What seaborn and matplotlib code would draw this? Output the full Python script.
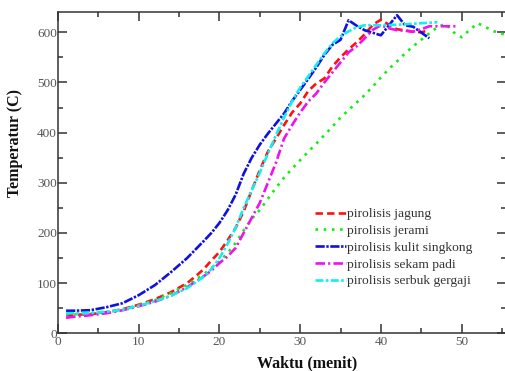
import numpy as np
import pandas as pd
import matplotlib
matplotlib.use("Agg")
import matplotlib.pyplot as plt
import seaborn as sns

# ---- data ----
series_names = ["pirolisis jagung", "pirolisis jerami", "pirolisis kulit singkong",
                "pirolisis sekam padi", "pirolisis serbuk gergaji"]

t_jagung = [1, 2, 4, 6, 8, 10, 12, 14, 16, 17, 18, 19, 20, 21, 22, 23, 24, 25, 26, 27,
            28, 29, 30, 31, 32, 33, 34, 35, 36, 37, 38, 39, 40, 41, 42, 43, 44, 45, 46]
y_jagung = [36, 37, 38, 42, 48, 57, 68, 82, 100, 113, 127, 145, 162, 185, 210, 243, 285, 325, 362, 388,
            415, 440, 458, 483, 498, 508, 532, 550, 566, 580, 596, 615, 625, 615, 606, 604, 601, 600, 604]

t_jerami = [1, 2, 4, 6, 8, 10, 12, 14, 16, 18, 20, 21, 22, 23, 24, 25, 26, 27, 28, 29, 30,
            31, 32, 33, 34, 35, 36, 37, 38, 39, 40, 41, 42, 43, 44, 45, 46, 47, 48, 49, 50,
            51, 52, 53, 54, 55, 56]
y_jerami = [38, 38, 39, 42, 48, 56, 66, 80, 97, 117, 143, 160, 180, 205, 228, 246, 268, 290, 310, 328, 345,
            362, 378, 395, 412, 430, 445, 460, 475, 492, 510, 527, 542, 558, 572, 585, 598, 610, 617, 600, 590,
            605, 618, 610, 602, 597, 592]

t_kulit = [1, 2, 4, 6, 8, 10, 12, 14, 16, 18, 19, 20, 21, 22, 23, 24, 25, 26, 27, 28, 29,
           30, 31, 32, 33, 34, 35, 36, 37, 38, 40, 42, 43, 44, 46]
y_kulit = [45, 45, 46, 52, 60, 76, 96, 122, 150, 183, 200, 220, 245, 276, 318, 350, 376, 398, 418, 438, 463,
           485, 507, 530, 555, 575, 585, 624, 613, 604, 594, 634, 614, 611, 588]

t_sekam = [1, 2, 4, 6, 8, 10, 12, 14, 16, 18, 19, 20, 21, 22, 23, 24, 25, 26, 27, 28, 29,
           30, 31, 32, 33, 34, 35, 36, 37, 38, 39, 40, 41, 42, 43, 44, 45, 46, 48, 49.5]
y_sekam = [31, 33, 36, 40, 46, 54, 63, 75, 92, 113, 125, 140, 153, 170, 200, 230, 260, 300, 340, 388, 415,
           440, 462, 478, 500, 520, 540, 560, 572, 588, 605, 614, 608, 604, 603, 601, 606, 612, 612, 612]

t_serbuk = [1, 2, 4, 6, 8, 10, 12, 14, 16, 18, 19, 20, 21, 22, 23, 24, 25, 26, 27, 28, 29,
            30, 31, 32, 33, 34, 35, 36, 37, 38, 40, 42, 44, 46, 47]
y_serbuk = [40, 40, 41, 43, 47, 55, 64, 75, 90, 112, 128, 150, 178, 210, 250, 285, 320, 358, 395, 430, 462,
            490, 512, 535, 558, 578, 592, 602, 610, 614, 614, 615, 617, 619, 620]

x_ticks = [0, 10, 20, 30, 40, 50]
y_ticks = [0, 100, 200, 300, 400, 500, 600]
x_label = "Waktu (menit)"
y_label = "Temperatur (C)"

# ---- build long table ----
frames = []
for name, t, y in zip(series_names,
                      [t_jagung, t_jerami, t_kulit, t_sekam, t_serbuk],
                      [y_jagung, y_jerami, y_kulit, y_sekam, y_serbuk]):
    frames.append(pd.DataFrame({"Waktu": t, "Temperatur": y, "Bahan": name}))
df = pd.concat(frames, ignore_index=True)

palette = {
    "pirolisis jagung": "#ff1010",
    "pirolisis jerami": "#10f010",
    "pirolisis kulit singkong": "#1010e0",
    "pirolisis sekam padi": "#f010f0",
    "pirolisis serbuk gergaji": "#10f0f0",
}
dashes = {
    "pirolisis jagung": (2.8, 1.6),
    "pirolisis jerami": (1.0, 2.1),
    "pirolisis kulit singkong": (3.5, 0.6, 0.9, 0.6),
    "pirolisis sekam padi": (3.6, 1.2, 0.8, 1.2),
    "pirolisis serbuk gergaji": (3.0, 0.9, 1.0, 0.9),
}

sns.set_style("ticks")
plt.rcParams["font.family"] = ["Liberation Serif", "DejaVu Serif"]

fig = plt.figure(figsize=(5.06, 3.71), dpi=100)
ax = fig.add_axes([58 / 506, 1 - 333.3 / 371, 448 / 506, (333.3 - 12.2) / 371])

sns.lineplot(data=df, x="Waktu", y="Temperatur", hue="Bahan", style="Bahan",
             hue_order=series_names, style_order=series_names,
             palette=palette, dashes=dashes, estimator=None, sort=False,
             linewidth=1.9, legend=False, ax=ax)

ax.set_xlim(0, 55.5)
ax.set_ylim(0, 640)
ax.set_xticks(x_ticks)
ax.set_yticks(y_ticks)
ax.set_xticks(np.arange(5, 56, 10), minor=True)
ax.set_yticks(np.arange(50, 640, 100), minor=True)

for s in ax.spines.values():
    s.set_color("#333333")
    s.set_linewidth(1.1)
ax.tick_params(which="both", direction="in", top=True, right=True, color="#333333",
               labelcolor="#555555", labelsize=9.5)
ax.tick_params(which="major", length=6.5, width=1.1)
ax.tick_params(which="minor", length=3.6, width=1.1)
ax.tick_params(axis="y", pad=0.8)
ax.tick_params(axis="x", pad=2.0)

ax.set_xlabel(x_label, fontsize=11.5, fontweight="bold", color="#111111")
ax.set_ylabel(y_label, fontsize=11.5, fontweight="bold", color="#111111")
ax.xaxis.label.set_va("center")
ax.yaxis.label.set_va("center")
ax.xaxis.set_label_coords((306.7 - 58) / 448, (333.3 - 363) / 321.1)
ax.yaxis.set_label_coords((15 - 58) / 448, (333.3 - 143) / 321.1)

leg = ax.legend(handles=ax.lines, labels=series_names, frameon=False,
                loc="upper left", bbox_to_anchor=(315 / 506, 1 - 208 / 371),
                bbox_transform=fig.transFigure, fontsize=9.7, handlelength=2.3,
                handletextpad=0.1, borderpad=0, borderaxespad=0, labelspacing=0.32)
for txt in leg.get_texts():
    txt.set_color("#333333")

fig.savefig("out.png", dpi=100)
